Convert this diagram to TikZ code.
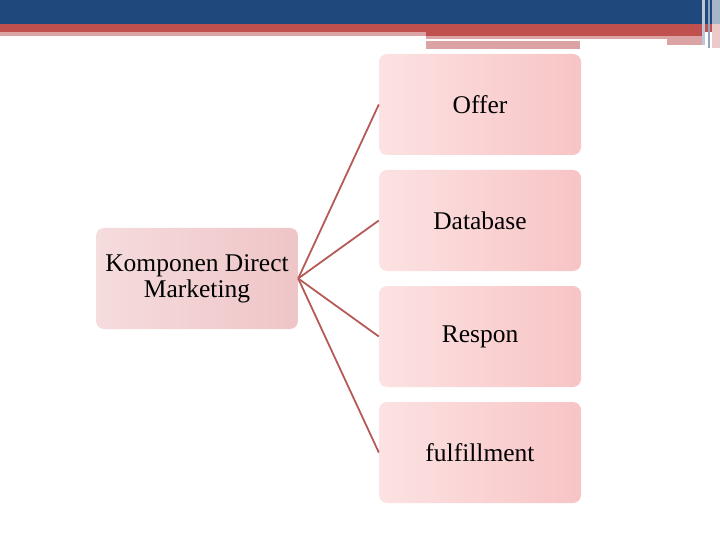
\documentclass[tikz,border=0pt]{standalone}
\usepackage{fontspec}
\setmainfont{Liberation Serif}
\begin{document}
\begin{tikzpicture}[x=1pt,y=-1pt,
  box/.style={rounded corners=8pt, minimum width=202pt, minimum height=101pt, inner sep=0pt, align=center, font=\fontsize{25.5}{26}\selectfont},
  itembox/.style={box, left color=pinkL, right color=pinkR},
  mainbox/.style={box, left color=mainL, right color=mainR},
  link/.style={draw=linkc, line width=1.8pt}
]
\definecolor{bannerblue}{HTML}{1F497D}
\definecolor{bannerred}{HTML}{C0504D}
\definecolor{bannerpink}{HTML}{DCA3A5}
\definecolor{pinkR}{HTML}{F8C4C5}
\definecolor{pinkL}{HTML}{FCE2E2}
\definecolor{mainL}{HTML}{F5DCDD}
\definecolor{mainR}{HTML}{EFC5C7}
\definecolor{linkc}{HTML}{B65A58}
\useasboundingbox (0,0) rectangle (720,540);
% banner
\fill[bannerblue] (0,0) rectangle (720,24);
\fill[bannerred] (0,24) rectangle (720,32);
\fill[bannerpink] (0,32) rectangle (426,36);
\fill[bannerred] (426,32) rectangle (705,36);
\fill[bannerpink] (426,36) rectangle (705,49);
\fill[white] (426,39) rectangle (667,41);
\fill[white] (580,41) rectangle (705,49);
\fill[bannerpink] (667,41) rectangle (705,45);
\fill[white!70!bannerblue] (702,0) rectangle (705,45);
\fill[white!50!bannerblue] (708,0) rectangle (710,48);
\fill[white!60!bannerblue] (712,0) rectangle (720,24);
\fill[white!70!bannerred] (712,24) rectangle (720,48);
% nodes
\node[mainbox] (k) at (197,278.5) {Komponen Direct\\Marketing};
\node[itembox] (o) at (480,104.5) {Offer};
\node[itembox] (d) at (480,220.5) {Database};
\node[itembox] (r) at (480,336.5) {Respon};
\node[itembox] (f) at (480,452.5) {fulfillment};
% links
\draw[link] (k.east) -- (o.west);
\draw[link] (k.east) -- (d.west);
\draw[link] (k.east) -- (r.west);
\draw[link] (k.east) -- (f.west);
\end{tikzpicture}
\end{document}
